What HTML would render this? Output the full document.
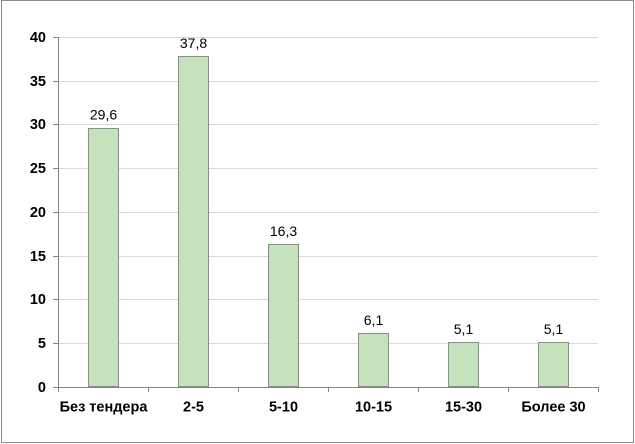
<!DOCTYPE html>
<html><head><meta charset="utf-8"><style>
html,body{margin:0;padding:0;background:#fff;}
svg{display:block;}
text{font-family:"Liberation Sans",Arial,sans-serif;font-size:14px;fill:#000;}
.b text{font-weight:bold;font-size:14.5px;}
</style></head><body>
<svg width="635" height="444" viewBox="0 0 635 444" xmlns="http://www.w3.org/2000/svg">
<rect x="0" y="0" width="635" height="444" fill="#fff"/>
<rect x="1.5" y="0.5" width="632" height="442" fill="none" stroke="#8c8c8c" stroke-width="1"/>
<g stroke="#d9d9d9" stroke-width="1">
<line x1="58" y1="37.5" x2="598" y2="37.5"/>
<line x1="58" y1="81.5" x2="598" y2="81.5"/>
<line x1="58" y1="124.5" x2="598" y2="124.5"/>
<line x1="58" y1="168.5" x2="598" y2="168.5"/>
<line x1="58" y1="212.5" x2="598" y2="212.5"/>
<line x1="58" y1="256.5" x2="598" y2="256.5"/>
<line x1="58" y1="299.5" x2="598" y2="299.5"/>
<line x1="58" y1="343.5" x2="598" y2="343.5"/>
</g>
<g fill="#c4e3bc" stroke="#8c8c8c" stroke-width="1">
<rect x="88.5" y="128.5" width="30" height="258"/>
<rect x="178.5" y="56.5" width="30" height="330"/>
<rect x="268.5" y="244.5" width="30" height="142"/>
<rect x="358.5" y="333.5" width="30" height="53"/>
<rect x="448.5" y="342.5" width="30" height="44"/>
<rect x="538.5" y="342.5" width="30" height="44"/>
</g>
<g stroke="#868686" stroke-width="1">
<line x1="58.5" y1="37" x2="58.5" y2="387"/>
<line x1="58" y1="387.5" x2="598" y2="387.5"/>
<line x1="53" y1="37.5" x2="58" y2="37.5"/>
<line x1="53" y1="81.5" x2="58" y2="81.5"/>
<line x1="53" y1="124.5" x2="58" y2="124.5"/>
<line x1="53" y1="168.5" x2="58" y2="168.5"/>
<line x1="53" y1="212.5" x2="58" y2="212.5"/>
<line x1="53" y1="256.5" x2="58" y2="256.5"/>
<line x1="53" y1="299.5" x2="58" y2="299.5"/>
<line x1="53" y1="343.5" x2="58" y2="343.5"/>
<line x1="53" y1="387.5" x2="58" y2="387.5"/>
<line x1="58.5" y1="387" x2="58.5" y2="392"/>
<line x1="148.5" y1="387" x2="148.5" y2="392"/>
<line x1="238.5" y1="387" x2="238.5" y2="392"/>
<line x1="328.5" y1="387" x2="328.5" y2="392"/>
<line x1="418.5" y1="387" x2="418.5" y2="392"/>
<line x1="508.5" y1="387" x2="508.5" y2="392"/>
<line x1="598.5" y1="387" x2="598.5" y2="392"/>
</g>
<g class="b" text-anchor="end">
<text x="46" y="42">40</text>
<text x="46" y="86">35</text>
<text x="46" y="129">30</text>
<text x="46" y="173">25</text>
<text x="46" y="217">20</text>
<text x="46" y="261">15</text>
<text x="46" y="304">10</text>
<text x="46" y="348">5</text>
<text x="46" y="392">0</text>
</g>
<g class="b" text-anchor="middle">
<text x="103.5" y="411.5">Без тендера</text>
<text x="193.5" y="411.5">2-5</text>
<text x="283.5" y="411.5">5-10</text>
<text x="373.5" y="411.5">10-15</text>
<text x="463.5" y="411.5">15-30</text>
<text x="553.5" y="411.5">Более 30</text>
</g>
<g text-anchor="middle">
<text x="103.5" y="119.5">29,6</text>
<text x="193.5" y="48">37,8</text>
<text x="283.5" y="236">16,3</text>
<text x="373.5" y="325">6,1</text>
<text x="463.5" y="334">5,1</text>
<text x="553.5" y="334">5,1</text>
</g>
</svg>
</body></html>
